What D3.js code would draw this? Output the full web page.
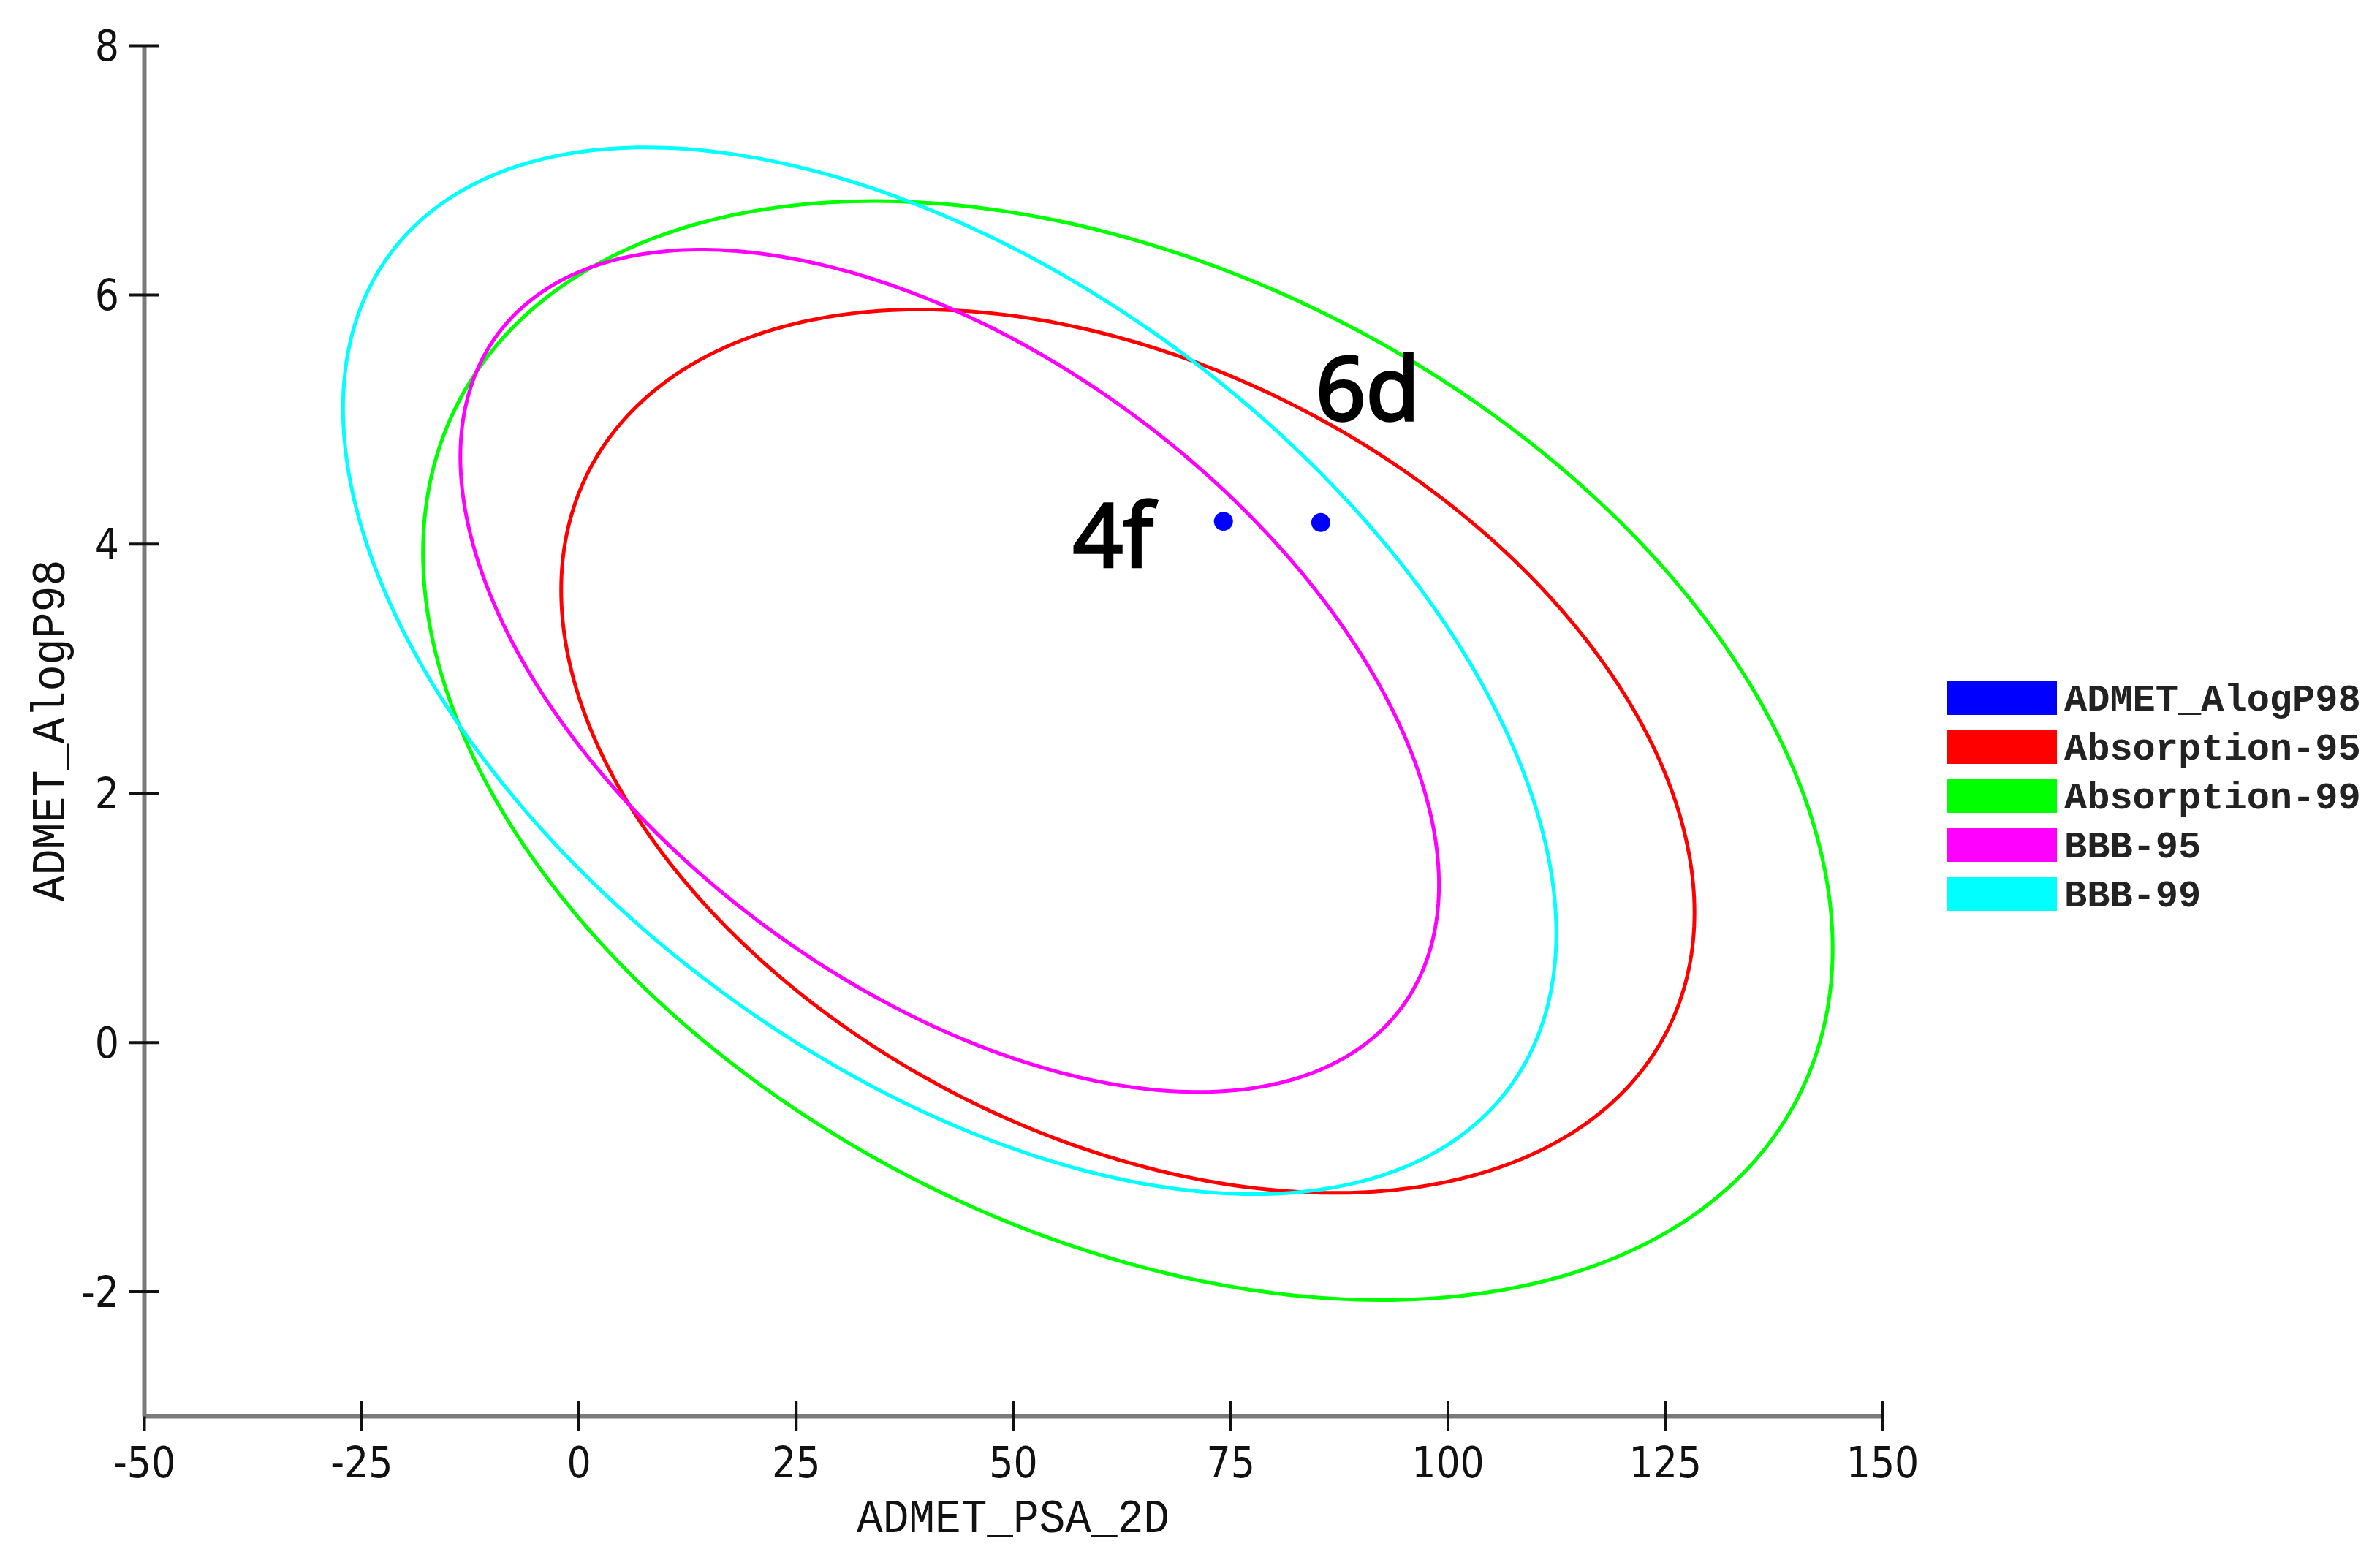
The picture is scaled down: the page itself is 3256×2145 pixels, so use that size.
<!DOCTYPE html>
<html>
<head>
<meta charset="utf-8">
<script src="https://cdn.jsdelivr.net/npm/d3@7"></script>
<style>
body { margin: 0; background: #fff; }
</style>
</head>
<body>
<div id="chart"></div>
<script>

// legend entries
var seriesNames = ["ADMET_AlogP98", "Absorption-95", "Absorption-99", "BBB-95", "BBB-99"];
var seriesColors = ["#0000ff", "#ff0000", "#00ff00", "#ff00ff", "#00ffff"];

// the two compounds
var pointLabels = ["4f", "6d"];
var pointPSA = [74.2, 85.4];
var pointAlogP = [4.18, 4.17];

// confidence ellipses:
// extent in x and y, plus the x where the ellipse reaches its top
var ellipseNames = ["Absorption-95", "Absorption-99", "BBB-95", "BBB-99"];
var ellipseXMin = [-2.0, -17.9, -13.6, -27.1];
var ellipseXMax = [128.4, 144.3, 99.0, 112.5];
var ellipseYMin = [-1.21, -2.07, -0.40, -1.22];
var ellipseYMax = [5.88, 6.75, 6.36, 7.18];
var ellipseXTop = [39.4, 34.0, 14.1, 7.7];

var xTicks = [-50, -25, 0, 25, 50, 75, 100, 125, 150];
var yTicks = [-2, 0, 2, 4, 6, 8];
var xTitle = "ADMET_PSA_2D";
var yTitle = "ADMET_AlogP98";

var width = 3256,
    height = 2145;

var svg = d3.select("#chart").append("svg")
    .attr("width", width)
    .attr("height", height)
    .style("display", "block");

var x = d3.scaleLinear().domain([-50, 150]).range([197, 2575]);
var y = d3.scaleLinear().domain([-3, 8]).range([1937, 62]);

var color = d3.scaleOrdinal().domain(seriesNames).range(seriesColors);

var tickFont = "'Liberation Sans Narrow', 'DejaVu Sans Condensed', 'Liberation Sans', sans-serif";
var monoFont = "'Liberation Mono', 'DejaVu Sans Mono', monospace";

// plain hyphen for negatives, like the original
var fmt = function(d) { return String(d); };

// axes
var xAxis = svg.append("g")
    .attr("transform", "translate(0," + y(-3) + ")")
    .call(d3.axisBottom(x).tickValues(xTicks).tickSize(20).tickSizeOuter(0).tickFormat(fmt));

var yAxis = svg.append("g")
    .attr("transform", "translate(" + x(-50) + ",0)")
    .call(d3.axisLeft(y).tickValues(yTicks).tickSize(20).tickSizeOuter(0).tickFormat(fmt));

[xAxis, yAxis].forEach(function(g) {
    g.select(".domain")
        .attr("stroke", "#7a7a7a")
        .attr("stroke-width", 6);
    g.selectAll(".tick line")
        .attr("stroke", "#111")
        .attr("stroke-width", 4);
    g.selectAll(".tick text")
        .attr("fill", "#111")
        .style("font-family", tickFont)
        .style("font-size", "58px");
});

xAxis.selectAll(".tick line").attr("y1", -20).attr("y2", 20);
xAxis.selectAll(".tick text").attr("y", 84).attr("dy", null);

yAxis.selectAll(".tick line").attr("x1", -20).attr("x2", 20);
yAxis.selectAll(".tick text").attr("x", -34).attr("dy", "0.36em");

// axis titles
svg.append("text")
    .attr("x", (x(-50) + x(150)) / 2)
    .attr("y", 2096)
    .attr("text-anchor", "middle")
    .attr("textLength", 428)
    .attr("lengthAdjust", "spacingAndGlyphs")
    .style("font-family", monoFont)
    .style("font-size", "64px")
    .attr("fill", "#111")
    .text(xTitle);

svg.append("text")
    .attr("transform", "translate(88," + (y(-3) + y(8)) / 2 + ") rotate(-90)")
    .attr("text-anchor", "middle")
    .attr("textLength", 468)
    .attr("lengthAdjust", "spacingAndGlyphs")
    .style("font-family", monoFont)
    .style("font-size", "64px")
    .attr("fill", "#111")
    .text(yTitle);

// ellipses
var ellipses = ellipseNames.map(function(name, i) {
    var cx = (ellipseXMin[i] + ellipseXMax[i]) / 2,
        ax = (ellipseXMax[i] - ellipseXMin[i]) / 2,
        cy = (ellipseYMin[i] + ellipseYMax[i]) / 2,
        ay = (ellipseYMax[i] - ellipseYMin[i]) / 2,
        phi = Math.acos((ellipseXTop[i] - cx) / ax);
    var pts = d3.range(0, 360).map(function(k) {
        var t = k * Math.PI / 180;
        return [cx + ax * Math.cos(t), cy + ay * Math.cos(t + phi)];
    });
    return { name: name, points: pts };
});

var line = d3.line()
    .x(function(d) { return x(d[0]); })
    .y(function(d) { return y(d[1]); })
    .curve(d3.curveLinearClosed);

svg.append("g")
    .selectAll("path")
    .data(ellipses)
    .enter().append("path")
    .attr("d", function(d) { return line(d.points); })
    .attr("fill", "none")
    .attr("stroke", function(d) { return color(d.name); })
    .attr("stroke-width", 5);

// compound points + labels
var points = pointLabels.map(function(l, i) {
    return { label: l, psa: pointPSA[i], alogp: pointAlogP[i] };
});

svg.append("g")
    .selectAll("circle")
    .data(points)
    .enter().append("circle")
    .attr("cx", function(d) { return x(d.psa); })
    .attr("cy", function(d) { return y(d.alogp); })
    .attr("r", 13)
    .attr("fill", color("ADMET_AlogP98"));

var labelOffsets = [[-96, 63, "end"], [-7, -140, "start"]];

svg.append("g")
    .selectAll("text")
    .data(points)
    .enter().append("text")
    .attr("x", function(d, i) { return x(d.psa) + labelOffsets[i][0]; })
    .attr("y", function(d, i) { return y(d.alogp) + labelOffsets[i][1]; })
    .attr("text-anchor", function(d, i) { return labelOffsets[i][2]; })
    .style("font-family", "'Noto Sans', 'Open Sans', sans-serif")
    .style("font-size", "120px")
    .attr("fill", "#000")
    .attr("stroke", "#000")
    .attr("stroke-width", 3.5)
    .text(function(d) { return d.label; });

// legend
var legend = svg.append("g")
    .attr("transform", "translate(2664,955)")
    .selectAll("g")
    .data(seriesNames)
    .enter().append("g")
    .attr("transform", function(d, i) { return "translate(0," + i * 67 + ")"; });

legend.append("rect")
    .attr("x", 0)
    .attr("y", -23)
    .attr("width", 150)
    .attr("height", 46)
    .attr("fill", function(d) { return color(d); });

legend.append("text")
    .attr("x", 160)
    .attr("y", 17)
    .style("font-family", monoFont)
    .style("font-size", "52px")
    .style("font-weight", "bold")
    .attr("fill", "#222")
    .text(function(d) { return d; });

</script>
</body>
</html>
